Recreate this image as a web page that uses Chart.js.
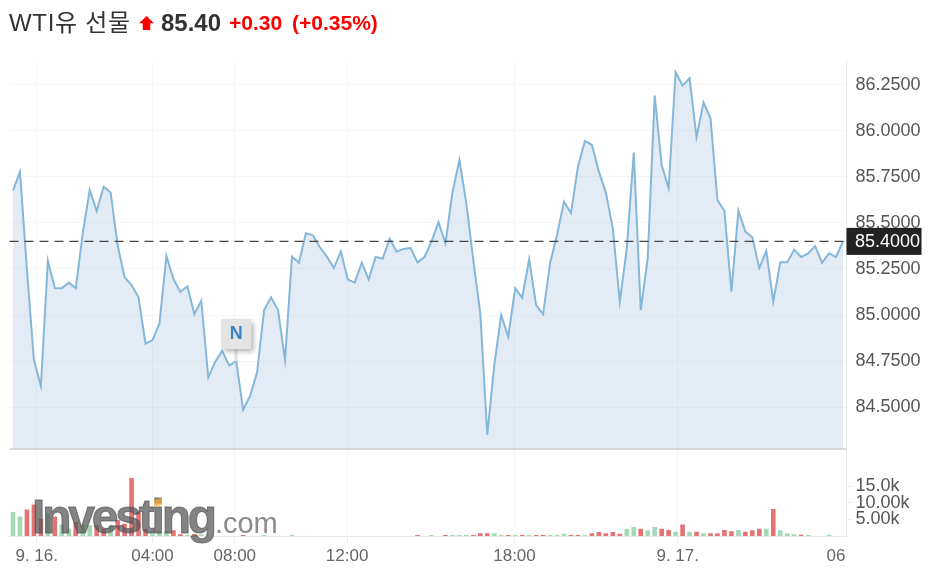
<!DOCTYPE html>
<html>
<head>
<meta charset="utf-8">
<title>WTI유 선물</title>
<script src="https://cdn.jsdelivr.net/npm/chart.js@4"></script>
<style>
    html, body { margin: 0; padding: 0; background: #fff; }
    body { position: relative; width: 935px; height: 579px; overflow: hidden; font-family: "Liberation Sans", "Noto Sans CJK KR", sans-serif; }
    #chart { position: absolute; left: 0; top: 0; }
    .head { position: absolute; top: 9px; line-height: 28px; white-space: nowrap; }
    #title { left: 9px; font-size: 24px; letter-spacing: 0.7px; color: #333; }
    #last { left: 161px; font-size: 24px; font-weight: bold; color: #333; }
    #chg { left: 229px; font-size: 21px; font-weight: bold; color: #f00; }
    #pct { left: 292px; font-size: 21px; font-weight: bold; color: #f00; }
    #arrow { position: absolute; left: 139px; top: 16px; width: 15px; height: 14px; background: #f00;
        clip-path: polygon(50% 0, 100% 52%, 75% 52%, 75% 100%, 25% 100%, 25% 52%, 0 52%); }
    #logo { position: absolute; left: 32px; top: 487px; font-size: 48px; line-height: 60px; font-weight: bold; letter-spacing: -3.2px; color: rgba(85, 85, 85, 0.72); -webkit-text-stroke: 1px rgba(85, 85, 85, 0.72); white-space: nowrap; }
    #logo span { font-size: 29px; font-weight: normal; letter-spacing: 0; color: rgba(110, 110, 110, 0.8); -webkit-text-stroke: 0; margin-left: 1px; }
    #swoosh { position: absolute; left: 154px; top: 499px; width: 8px; height: 7px; background: rgba(250, 170, 50, 0.75); transform: skewY(-18deg); }
</style>
</head>
<body>
<canvas id="chart" width="935" height="579"></canvas>
<div class="head" id="title">WTI유 선물</div>
<div id="arrow"></div>
<div class="head" id="last">85.40</div>
<div class="head" id="chg">+0.30</div>
<div class="head" id="pct">(+0.35%)</div>
<div id="logo">Investing<span>.com</span></div>
<div id="swoosh"></div>
<script>
const priceValues = [
    85.676, 85.779, 85.245, 84.755, 84.614, 85.295, 85.147, 85.145, 85.176, 85.145,
    85.444, 85.679, 85.565, 85.697, 85.665, 85.38, 85.205, 85.163, 85.096, 84.844,
    84.864, 84.955, 85.321, 85.196, 85.125, 85.156, 85.005, 85.078, 84.661, 84.746,
    84.806, 84.725, 84.75, 84.484, 84.562, 84.689, 85.027, 85.096, 85.027, 84.755,
    85.317, 85.284, 85.444, 85.433, 85.368, 85.317, 85.255, 85.346, 85.194, 85.176,
    85.284, 85.194, 85.315, 85.306, 85.415, 85.344, 85.359, 85.364, 85.286, 85.315,
    85.398, 85.505, 85.39, 85.665, 85.842, 85.607, 85.295, 85.009, 84.348, 84.728,
    85.0, 84.882, 85.145, 85.094, 85.303, 85.054, 85.004, 85.281, 85.435, 85.616,
    85.553, 85.806, 85.946, 85.924, 85.779, 85.665, 85.471, 85.072, 85.362, 85.882,
    85.027, 85.308, 86.192, 85.815, 85.689, 86.319, 86.246, 86.286, 85.966, 86.156,
    86.069, 85.625, 85.565, 85.127, 85.567, 85.453, 85.422, 85.254, 85.348, 85.072,
    85.286, 85.286, 85.355, 85.315, 85.335, 85.375, 85.284, 85.335, 85.315, 85.4
];

// volume in thousands
const volumeValues = [
    7.2, 5.9, 8, 9.5, 5.2, 6.7, 5.9, 3.5, 2.2, 4.2,
    3.5, 3.2, 3.2, 2.2, 3, 4.9, 3.7, 17.5, 7.2, 2.2,
    1.5, 1.5, 1.5, 1.7, 0.5, 0.4, 0.6, 0.5, 0, 0,
    0, 0, 0, 0.3, 0, 0, 0.3, 0, 0, 0,
    0.3, 0, 0, 0, 0, 0, 0, 0, 0, 0,
    0, 0, 0, 0, 0, 0, 0, 0, 0.3, 0,
    0.3, 0, 0.3, 0.3, 0.3, 0.3, 0.3, 0.8, 0.8, 0.8,
    0.4, 0.3, 0.3, 0.3, 0.3, 0.3, 0.3, 0.3, 0.3, 0.7,
    0.3, 0.3, 0.3, 0.8, 1.2, 0.8, 1.2, 0.7, 2.2, 2.7,
    2.2, 1.7, 2.7, 2.2, 1.8, 1.3, 3.5, 1.3, 1.3, 0.8,
    0.8, 0.8, 1.8, 1.4, 1.8, 1.3, 1.7, 2.2, 2.2, 8.1,
    1.7, 0.8, 0.5, 0.4, 0.3, 0, 0, 0.4, 0, 0
];

const volumeDirections = [
    'u', 'u', 'd', 'd', 'd', 'u', 'd', 'u', 'u', 'd',
    'u', 'u', 'd', 'd', 'u', 'd', 'd', 'd', 'd', 'd',
    'u', 'u', 'u', 'd', 'd', 'u', 'd', 'u', 'u', 'u',
    'u', 'u', 'u', 'd', 'u', 'u', 'u', 'u', 'u', 'u',
    'u', 'u', 'u', 'u', 'u', 'u', 'u', 'u', 'u', 'u',
    'u', 'u', 'u', 'u', 'u', 'u', 'u', 'u', 'd', 'u',
    'u', 'u', 'd', 'u', 'u', 'u', 'd', 'd', 'd', 'u',
    'u', 'd', 'u', 'd', 'u', 'd', 'd', 'u', 'u', 'u',
    'd', 'd', 'u', 'd', 'd', 'd', 'd', 'd', 'u', 'u',
    'd', 'u', 'u', 'd', 'd', 'u', 'd', 'u', 'd', 'u',
    'd', 'd', 'd', 'd', 'u', 'd', 'd', 'd', 'u', 'd',
    'u', 'u', 'u', 'd', 'u', 'u', 'u', 'u', 'u', 'u'
];

const priceTicks = [84.5, 84.75, 85, 85.25, 85.5, 85.75, 86, 86.25];
const volumeTicks = [5, 10, 15];
const volumeTickLabels = ['5.00k', '10.00k', '15.0k'];

// x axis labels, and the bar slot each one sits at (the axis skips hours with no bars)
const timeLabels = ['9. 16.', '04:00', '08:00', '12:00', '18:00', '9. 17.', '06'];
const timeSlots = [3.4, 20, 31.8, 47.9, 71.9, 95.3, 118];

const lastPrice = 85.4;
const newsSlot = 32;

const axisFont = { family: '"Liberation Sans", sans-serif', size: 18 };
const gridColor = '#f5f6f8';
const axisColor = '#e6e9f0';

const slots = priceValues.map((v, i) => i);

// dashed last price line, its tag, the N flag and the line between the two panels
const overlayPlugin = {
    id: 'overlay',
    afterDatasetsDraw(chart) {
        const { ctx, chartArea, scales } = chart;
        const y = scales.y.getPixelForValue(lastPrice);

        ctx.save();
        ctx.strokeStyle = '#cccccc';
        ctx.lineWidth = 1.5;
        ctx.beginPath();
        ctx.moveTo(chartArea.left, scales.y.bottom);
        ctx.lineTo(chartArea.right, scales.y.bottom);
        ctx.stroke();

        ctx.strokeStyle = '#444';
        ctx.lineWidth = 1.3;
        ctx.setLineDash([9, 6]);
        ctx.beginPath();
        ctx.moveTo(chartArea.left, y);
        ctx.lineTo(chartArea.right, y);
        ctx.stroke();
        ctx.setLineDash([]);

        ctx.fillStyle = '#222';
        ctx.fillRect(chartArea.right, y - 13.5, 75, 27);
        ctx.fillStyle = '#fff';
        ctx.font = '18px "Liberation Sans", sans-serif';
        ctx.textBaseline = 'middle';
        ctx.textAlign = 'left';
        ctx.fillText(lastPrice.toFixed(4), 855, y + 1);

        const nx = scales.x.getPixelForValue(newsSlot);
        const ny = scales.y.getPixelForValue(priceValues[newsSlot]);
        const boxTop = ny - 42;
        ctx.fillStyle = '#e4e4e4';
        ctx.fillRect(nx - 1.5, boxTop + 30, 3, ny - boxTop - 30);
        ctx.shadowColor = 'rgba(0, 0, 0, 0.3)';
        ctx.shadowBlur = 5;
        ctx.shadowOffsetX = 3;
        ctx.shadowOffsetY = 3;
        ctx.fillRect(nx - 15, boxTop, 30, 30);
        ctx.shadowColor = 'transparent';
        ctx.fillStyle = '#3a85c8';
        ctx.font = 'bold 18px "Liberation Sans", sans-serif';
        ctx.textAlign = 'center';
        ctx.fillText('N', nx, boxTop + 15);
        ctx.restore();
    }
};

new Chart(document.getElementById('chart').getContext('2d'), {
    data: {
        datasets: [{
            type: 'line',
            data: slots.map(i => ({ x: i, y: priceValues[i] })),
            yAxisID: 'y',
            borderColor: '#85b7da',
            borderWidth: 2,
            borderJoinStyle: 'miter',
            pointRadius: 0,
            tension: 0,
            fill: 'start',
            backgroundColor: 'rgba(117, 162, 204, 0.2)'
        }, {
            type: 'bar',
            data: slots.map(i => ({ x: i, y: volumeValues[i] })),
            yAxisID: 'yVol',
            backgroundColor: volumeDirections.map(d => d === 'u' ? '#a3d9b5' : '#e57373'),
            barPercentage: 0.66,
            categoryPercentage: 1
        }]
    },
    options: {
        responsive: false,
        animation: false,
        layout: { padding: { left: 9.5, top: 61, right: 0, bottom: 0 } },
        plugins: { legend: { display: false }, tooltip: { enabled: false } },
        scales: {
            x: {
                type: 'linear',
                offset: false,
                min: -0.5,
                max: 119.5,
                afterBuildTicks: axis => { axis.ticks = timeSlots.map(v => ({ value: v })); },
                afterFit: axis => { axis.height = 43; },
                grid: {
                    offset: false,
                    color: ctx => ctx.index === timeSlots.length - 1 ? 'transparent' : gridColor,
                    tickColor: ctx => ctx.index === timeSlots.length - 1 ? 'transparent' : axisColor,
                    tickLength: 7
                },
                border: { color: axisColor },
                ticks: {
                    font: { family: axisFont.family, size: 17 },
                    color: '#666',
                    padding: 3,
                    maxRotation: 0,
                    autoSkip: false,
                    callback: (v, i) => timeLabels[i]
                }
            },
            y: {
                position: 'right',
                stack: 'panels',
                stackWeight: 388,
                weight: 1,
                min: 84.272,
                max: 86.38,
                afterBuildTicks: axis => { axis.ticks = priceTicks.map(v => ({ value: v })); },
                afterFit: axis => { axis.width = 88.5; },
                grid: { color: gridColor, tickLength: 0 },
                border: { color: axisColor },
                ticks: {
                    font: axisFont,
                    color: '#555',
                    padding: 9,
                    autoSkip: false,
                    crossAlign: 'near',
                    callback: v => v.toFixed(4)
                }
            },
            yVol: {
                position: 'right',
                stack: 'panels',
                stackWeight: 87,
                weight: 2,
                min: 0,
                max: 26.2,
                afterBuildTicks: axis => { axis.ticks = volumeTicks.map(v => ({ value: v })); },
                afterFit: axis => { axis.width = 88.5; },
                grid: { drawOnChartArea: false, color: axisColor, tickLength: 5 },
                border: { color: axisColor },
                ticks: {
                    font: axisFont,
                    color: '#555',
                    padding: 4,
                    autoSkip: false,
                    crossAlign: 'near',
                    callback: (v, i) => volumeTickLabels[i]
                }
            }
        }
    },
    plugins: [overlayPlugin]
});
</script>
</body>
</html>
